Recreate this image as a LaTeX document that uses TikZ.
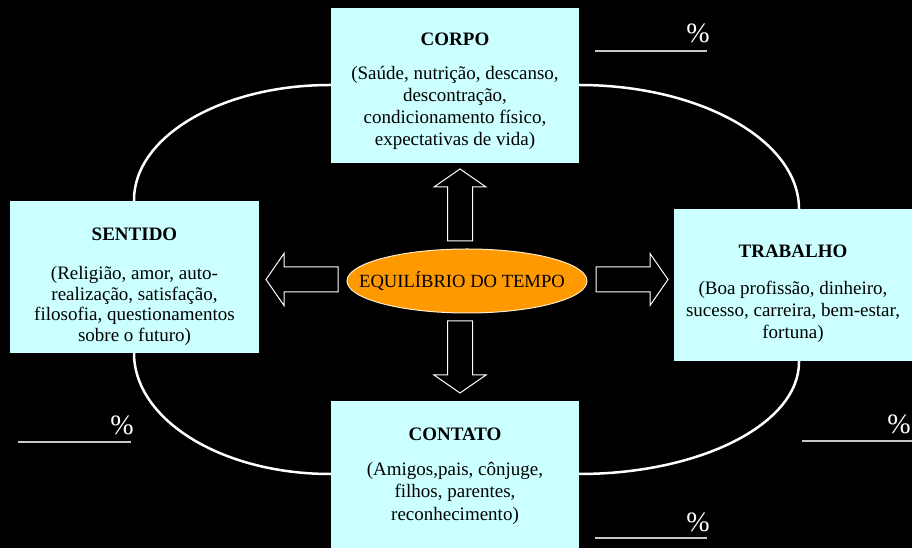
\documentclass[tikz,border=0pt]{standalone}
\usepackage{fontspec}
\setmainfont{Liberation Serif}
\definecolor{areacol}{HTML}{CCFFFF}
\definecolor{centrecol}{HTML}{FF9900}
\definecolor{pctgray}{HTML}{C8C8C8}
\begin{document}
\begin{tikzpicture}[x=1pt,y=1pt,
    area/.style={rectangle,fill=areacol,inner sep=0pt},
    areatext/.style={inner sep=0pt,align=center,font=\fontsize{19}{#1}\selectfont},
    pct/.style={text=white,inner sep=0pt,font=\fontsize{28}{30}\selectfont},
    pctline/.style={pctgray,line width=1.5pt},
    blockarrow/.pic={
        \draw[white,fill=black,line width=1pt]
            (0,-12.5) -- (54,-12.5) -- (54,-26) -- (72,0) -- (54,26) -- (54,12.5) -- (0,12.5) -- cycle;
    }]
    % background
    \fill[black] (0,0) rectangle (912,548);
    \useasboundingbox (0,0) rectangle (912,548);

    % the loop round the four areas
    \draw[white,line width=2.5pt] (134,348)
        arc[start angle=180,end angle=90,x radius=196,y radius=115] -- (579,463)
        arc[start angle=90,end angle=0,x radius=220,y radius=124] -- (799,186)
        arc[start angle=0,end angle=-90,x radius=220,y radius=112] -- (330,74)
        arc[start angle=-90,end angle=-180,x radius=196,y radius=121] -- cycle;

    % the four areas
    \node[area,minimum width=248,minimum height=155] (corpo) at (455,462.5) {};
    \node[areatext=22] (corpotext) at (455,456.5)
        {\textbf{CORPO}\\[12pt]
         (Saúde, nutrição, descanso,\\ descontração,\\ condicionamento físico,\\ expectativas de vida)};
    \node[area,minimum width=249,minimum height=152] (sentido) at (134.5,271) {};
    \node[areatext=20.5] (sentidotext) at (134.5,261.5)
        {\textbf{SENTIDO}\\[18.5pt]
         (Religião, amor, auto-\\ realização, satisfação,\\ filosofia, questionamentos\\ sobre o futuro)};
    \node[area,minimum width=238,minimum height=152] (trabalho) at (793,263) {};
    \node[areatext=22] (trabalhotext) at (793,254.5)
        {\textbf{TRABALHO}\\[15pt]
         (Boa profissão, dinheiro,\\ sucesso, carreira, bem-estar,\\ fortuna)};
    \node[area,minimum width=248,minimum height=147] (contato) at (455,73.5) {};
    \node[areatext=22.5] (contatotext) at (455,72)
        {\textbf{CONTATO}\\[12.5pt]
         (Amigos,pais, cônjuge,\\ filhos, parentes,\\ reconhecimento)};

    % block arrows out of the centre
    \pic at (460,307) [rotate=90] {blockarrow};
    \pic at (460,227) [rotate=-90] {blockarrow};
    \pic at (338,268.5) [rotate=180] {blockarrow};
    \pic at (596,268.5) {blockarrow};

    \filldraw[draw=white!80!centrecol,fill=centrecol,line width=1pt] (467,267) ellipse[x radius=120,y radius=32];
    \node[inner sep=0pt,font=\fontsize{18.6}{20}\selectfont] (tempo) at (462,266.5) {EQUILÍBRIO DO TEMPO};

    % percent blanks
    \draw[pctline] (595,497) -- (707,497);
    \node[pct] (pcorpo) at (698,515) {\%};
    \draw[pctline] (18,106) -- (131,106);
    \node[pct] (psentido) at (122,123) {\%};
    \draw[pctline] (802,107) -- (915,107);
    \node[pct] (ptrabalho) at (899,124) {\%};
    \draw[pctline] (595,10) -- (707,10);
    \node[pct] (pcontato) at (698,26) {\%};
\end{tikzpicture}
\end{document}
